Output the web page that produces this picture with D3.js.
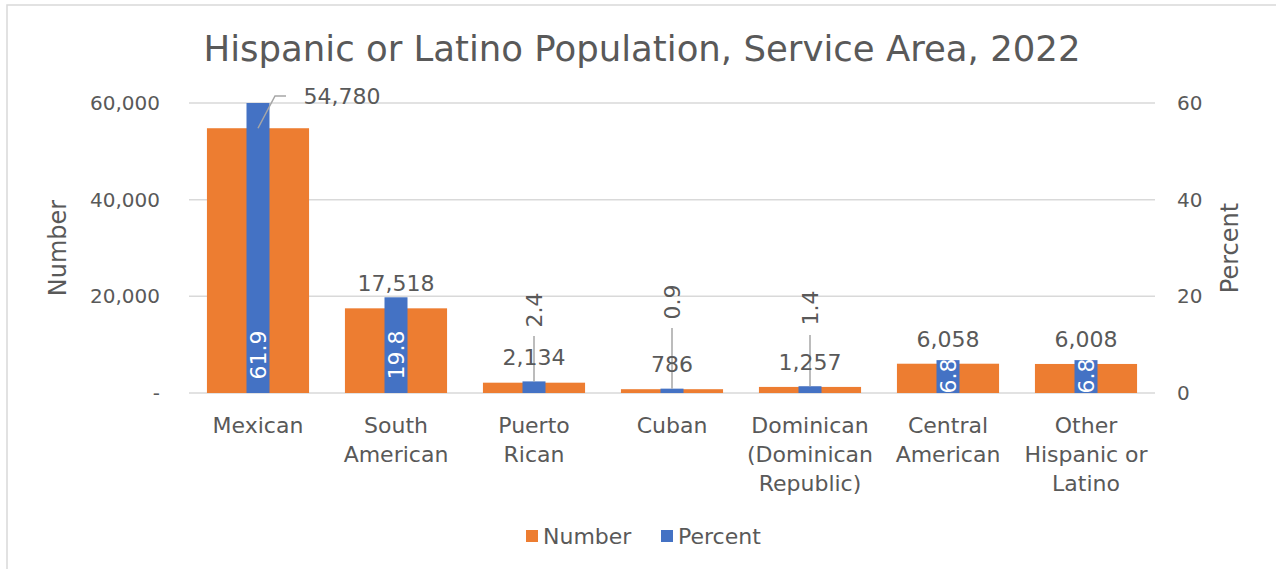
<!DOCTYPE html>
<html>
<head>
<meta charset="utf-8">
<script src="https://cdn.jsdelivr.net/npm/d3@7"></script>
<style>
  body { margin: 0; background: #fff; }
  text { font-family: "DejaVu Sans", sans-serif; fill: #595959; }
</style>
</head>
<body>
<script>
// data
var categories = ["Mexican", "South American", "Puerto Rican", "Cuban",
    "Dominican (Dominican Republic)", "Central American", "Other Hispanic or Latino"];
var categoryLines = [["Mexican"], ["South", "American"], ["Puerto", "Rican"], ["Cuban"],
    ["Dominican", "(Dominican", "Republic)"], ["Central", "American"], ["Other", "Hispanic or", "Latino"]];
var numberValues = [54780, 17518, 2134, 786, 1257, 6058, 6008];
var percentValues = [61.9, 19.8, 2.4, 0.9, 1.4, 6.8, 6.8];
var numberTicks = [0, 20000, 40000, 60000];
var percentTicks = [0, 20, 40, 60];

var width = 1276, height = 569;
var margin = {left: 189, right: 121, top: 103, bottom: 176};

var svg = d3.select("body").append("svg")
    .attr("width", width)
    .attr("height", height);

// outer frame
svg.append("rect")
    .attr("x", 7).attr("y", 5)
    .attr("width", width + 20).attr("height", height + 20)
    .attr("fill", "none")
    .attr("stroke", "#d9d9d9")
    .attr("stroke-width", 1.5);

var x = d3.scaleBand()
    .domain(categories)
    .range([margin.left, width - margin.right])
    .paddingInner(0.26)
    .paddingOuter(0.13);

var yNum = d3.scaleLinear().domain([0, 60000]).range([height - margin.bottom, margin.top]);
var yPct = d3.scaleLinear().domain([0, 60]).range([height - margin.bottom, margin.top]).clamp(true);

// gridlines
svg.append("g").selectAll("line")
    .data(numberTicks)
    .enter().append("line")
    .attr("x1", margin.left)
    .attr("x2", width - margin.right)
    .attr("y1", function(d) { return yNum(d); })
    .attr("y2", function(d) { return yNum(d); })
    .attr("stroke", "#d9d9d9")
    .attr("stroke-width", 1.5);

// left axis labels
svg.append("g").selectAll("text")
    .data(numberTicks)
    .enter().append("text")
    .attr("x", 160)
    .attr("y", function(d) { return yNum(d); })
    .attr("dy", "0.35em")
    .attr("text-anchor", "end")
    .attr("font-size", 20)
    .text(function(d) { return d === 0 ? "-" : d3.format(",")(d); });

// right axis labels
svg.append("g").selectAll("text")
    .data(percentTicks)
    .enter().append("text")
    .attr("x", 1177)
    .attr("y", function(d) { return yPct(d); })
    .attr("dy", "0.35em")
    .attr("text-anchor", "start")
    .attr("font-size", 20)
    .text(function(d) { return d; });

// axis titles
svg.append("text")
    .attr("transform", "translate(66," + yNum(30000) + ") rotate(-90)")
    .attr("text-anchor", "middle")
    .attr("font-size", 24)
    .text("Number");
svg.append("text")
    .attr("transform", "translate(1238," + yNum(30000) + ") rotate(-90)")
    .attr("text-anchor", "middle")
    .attr("font-size", 24)
    .text("Percent");

// title
svg.append("text")
    .attr("x", 642)
    .attr("y", 61)
    .attr("text-anchor", "middle")
    .attr("font-size", 35.5)
    .text("Hispanic or Latino Population, Service Area, 2022");

// orange bars
svg.append("g").selectAll("rect")
    .data(numberValues)
    .enter().append("rect")
    .attr("x", function(d, i) { return x(categories[i]); })
    .attr("width", x.bandwidth())
    .attr("y", function(d) { return yNum(d); })
    .attr("height", function(d) { return yNum(0) - yNum(d); })
    .attr("fill", "#ed7d31");

// blue bars
var blueW = 23;
svg.append("g").selectAll("rect")
    .data(percentValues)
    .enter().append("rect")
    .attr("x", function(d, i) { return x(categories[i]) + x.bandwidth() / 2 - blueW / 2; })
    .attr("width", blueW)
    .attr("y", function(d) { return yPct(d); })
    .attr("height", function(d) { return yPct(0) - yPct(d); })
    .attr("fill", "#4472c4");

function cx(i) { return x(categories[i]) + x.bandwidth() / 2; }

// leader lines
var leader = svg.append("g").attr("stroke", "#a6a6a6").attr("stroke-width", 1.5).attr("fill", "none");
// Mexican number label leader
leader.append("path")
    .attr("d", "M" + cx(0) + "," + yNum(numberValues[0]) +
        " L" + (cx(0) + 17) + "," + (yNum(60000) - 7) +
        " L" + (cx(0) + 28) + "," + (yNum(60000) - 7));
// small percent leaders
[2, 3, 4].forEach(function(i) {
    var top = {2: 336, 3: 328, 4: 335}[i];
    leader.append("line")
        .attr("x1", cx(i)).attr("x2", cx(i))
        .attr("y1", top).attr("y2", yPct(percentValues[i]));
});

// number labels
var fmt = d3.format(",");
svg.append("g").selectAll("text")
    .data(numberValues)
    .enter().append("text")
    .attr("x", function(d, i) { return i === 0 ? cx(0) + 84 : cx(i); })
    .attr("y", function(d, i) {
        if (i === 0) return yNum(60000) - 7;
        if (i === 1) return yPct(percentValues[1]) - 14;
        if (i >= 5) return yPct(percentValues[i]) - 21;
        return yNum(d) - 25;
    })
    .attr("dy", "0.35em")
    .attr("text-anchor", "middle")
    .attr("font-size", 22)
    .text(function(d) { return fmt(d); });

// percent labels (rotated)
svg.append("g").selectAll("text")
    .data(percentValues)
    .enter().append("text")
    .attr("transform", function(d, i) {
        var yy;
        if (i <= 1) yy = yPct(0) - 38;
        else if (i >= 5) yy = yPct(0) - 17;
        else yy = {2: 310, 3: 302, 4: 308}[i];
        return "translate(" + cx(i) + "," + yy + ") rotate(-90)";
    })
    .attr("dy", "0.35em")
    .attr("text-anchor", "middle")
    .attr("font-size", 22)
    .style("fill", function(d, i) { return (i <= 1 || i >= 5) ? "#fff" : "#595959"; })
    .text(function(d) { return d; });

// category labels
var cat = svg.append("g").selectAll("text")
    .data(categoryLines)
    .enter().append("text")
    .attr("x", function(d, i) { return cx(i); })
    .attr("y", 425)
    .attr("text-anchor", "middle")
    .attr("font-size", 22);
cat.selectAll("tspan")
    .data(function(d) { return d; })
    .enter().append("tspan")
    .attr("x", function() { return d3.select(this.parentNode).attr("x"); })
    .attr("dy", function(d, j) { return j === 0 ? "0.35em" : "1.32em"; })
    .text(function(d) { return d; });

// legend
var legend = svg.append("g");
var legendItems = [{name: "Number", color: "#ed7d31", x: 526}, {name: "Percent", color: "#4472c4", x: 661}];
legend.selectAll("rect")
    .data(legendItems)
    .enter().append("rect")
    .attr("x", function(d) { return d.x; })
    .attr("y", 530)
    .attr("width", 12).attr("height", 12)
    .attr("fill", function(d) { return d.color; });
legend.selectAll("text")
    .data(legendItems)
    .enter().append("text")
    .attr("x", function(d) { return d.x + 17; })
    .attr("y", 536)
    .attr("dy", "0.35em")
    .attr("font-size", 22)
    .text(function(d) { return d.name; });
</script>
</body>
</html>
